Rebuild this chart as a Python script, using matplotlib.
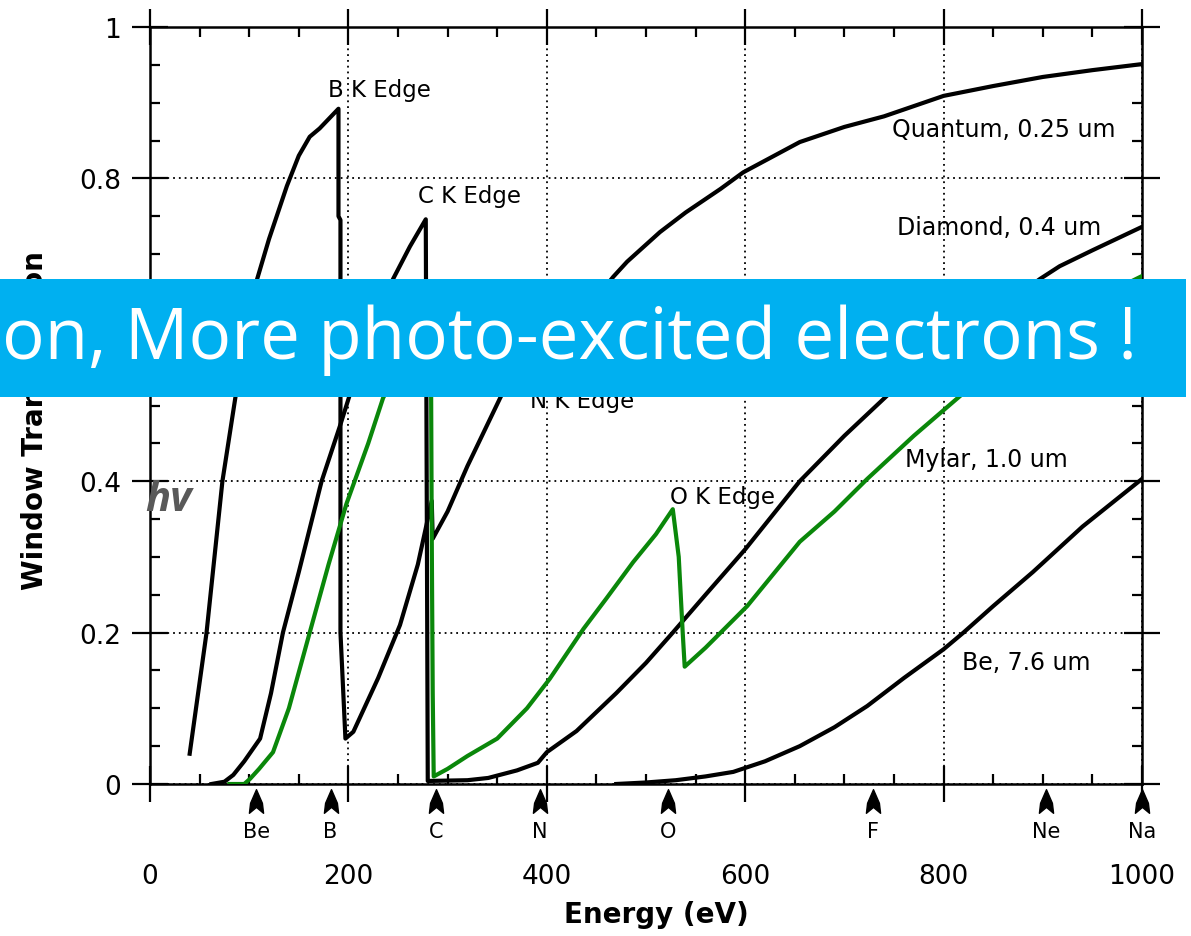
import matplotlib.pyplot as plt
from matplotlib.patches import Rectangle
from matplotlib.path import Path
from matplotlib.ticker import MultipleLocator, FixedLocator, FixedFormatter

# window transmission curves (energy in eV, transmission)
quantum_e = [40, 57, 73, 86, 97, 108, 120, 138, 150, 161, 171, 190, 190, 192, 192, 197,
             205, 230, 252, 270, 284, 285, 300, 320, 353, 380, 400, 401, 430, 467,
             481, 514, 540, 575, 598, 655, 700, 740, 800, 850, 900, 950, 1000]
quantum_t = [0.04, 0.2, 0.4, 0.51, 0.6, 0.667, 0.72, 0.79, 0.83, 0.855, 0.866, 0.892, 0.75, 0.745, 0.2, 0.06,
             0.069, 0.14, 0.21, 0.29, 0.374, 0.324, 0.36, 0.42, 0.51, 0.58, 0.63, 0.57, 0.61, 0.67,
             0.69, 0.729, 0.755, 0.786, 0.808, 0.848, 0.868, 0.882, 0.909, 0.922, 0.934, 0.943, 0.951]

diamond_e = [62, 75, 84, 95, 111, 122, 134, 150, 173, 192, 210, 230, 245, 262, 278, 280,
             320, 341, 370, 391, 400, 430, 470, 500, 527, 560, 600, 655, 700, 743,
             800, 850, 897, 917, 950, 1000]
diamond_t = [0.0, 0.003, 0.012, 0.03, 0.06, 0.12, 0.2, 0.28, 0.4, 0.475, 0.55, 0.62, 0.667, 0.71, 0.746, 0.004,
             0.005, 0.008, 0.018, 0.028, 0.042, 0.07, 0.12, 0.16, 0.2, 0.25, 0.31, 0.4, 0.46, 0.513,
             0.573, 0.622, 0.667, 0.684, 0.705, 0.736]

mylar_e = [80, 95, 101, 110, 124, 140, 161, 180, 198, 220, 235, 260, 283, 284, 285, 286,
           300, 320, 350, 380, 403, 437, 460, 487, 510, 527, 533, 537, 539,
           560, 602, 655, 690, 723, 770, 817, 870, 920, 960, 1000]
mylar_t = [0.0, 0.0, 0.007, 0.02, 0.042, 0.1, 0.2, 0.29, 0.37, 0.45, 0.51, 0.57, 0.64, 0.33, 0.12, 0.01,
           0.02, 0.037, 0.06, 0.1, 0.139, 0.205, 0.245, 0.293, 0.33, 0.363, 0.3, 0.2, 0.155,
           0.18, 0.235, 0.32, 0.36, 0.403, 0.46, 0.513, 0.57, 0.615, 0.645, 0.671]

be_e = [470, 500, 530, 560, 588, 620, 655, 690, 723, 760, 800, 820, 850, 890, 940, 1000]
be_t = [0.0, 0.002, 0.005, 0.01, 0.016, 0.03, 0.05, 0.075, 0.103, 0.14, 0.178, 0.2, 0.235, 0.28, 0.34, 0.403]

# element K edge markers under the axis
elements = ["Be", "B", "C", "N", "O", "F", "Ne", "Na"]
element_e = [107, 182, 288, 393, 522, 729, 903, 1000]

# text labels on the plot
edge_labels = ["B K Edge", "C K Edge", "N K Edge", "O K Edge"]
edge_label_e = [179, 270, 383, 524]
edge_label_t = [0.918, 0.778, 0.506, 0.380]
window_labels = ["Quantum, 0.25 um", "Diamond, 0.4 um", "Mylar, 1.0 um", "Be, 7.6 um"]
window_label_e = [748, 753, 761, 819]
window_label_t = [0.865, 0.736, 0.429, 0.161]

xticks = [0, 200, 400, 600, 800, 1000]
xticklabels = ["0", "200", "400", "600", "800", "1000"]
yticks = [0, 0.2, 0.4, 0.6, 0.8, 1.0]
yticklabels = ["0", "0.2", "0.4", "0.6", "0.8", "1"]

fig = plt.figure(figsize=(11.91, 9.37), dpi=100)
ax = fig.add_axes([150 / 1191, 1 - 785 / 937, 992 / 1191, 757 / 937])

green = "#0a870a"
lw = 3.0
ax.plot(quantum_e, quantum_t, color="black", lw=lw, zorder=3)
ax.plot(diamond_e, diamond_t, color="black", lw=lw, zorder=3)
ax.plot(be_e, be_t, color="black", lw=lw, zorder=3)
ax.plot(mylar_e, mylar_t, color=green, lw=lw, zorder=4)

ax.set_xlim(0, 1000)
ax.set_ylim(0, 1)

ax.xaxis.set_major_locator(FixedLocator(xticks))
ax.xaxis.set_major_formatter(FixedFormatter(xticklabels))
ax.yaxis.set_major_locator(FixedLocator(yticks))
ax.yaxis.set_major_formatter(FixedFormatter(yticklabels))
ax.xaxis.set_minor_locator(MultipleLocator(50))
ax.yaxis.set_minor_locator(MultipleLocator(0.05))

ax.tick_params(which="major", direction="inout", length=26, width=1.6,
               top=True, right=True, labelsize=19, colors="black")
ax.tick_params(which="minor", direction="in", length=7, width=1.6, top=True, right=True)
ax.tick_params(axis="x", which="major", pad=44)
ax.tick_params(axis="y", which="major", pad=8)
for s in ax.spines.values():
    s.set_linewidth(1.8)

ax.grid(True, which="major", color="black", linestyle=(0, (1, 2.2)), linewidth=1.3)

for lbl, e, t in zip(edge_labels, edge_label_e, edge_label_t):
    ax.text(e, t, lbl, fontsize=16.5, ha="left", va="center", zorder=5)
for lbl, e, t in zip(window_labels, window_label_e, window_label_t):
    ax.text(e, t, lbl, fontsize=17, ha="left", va="center", zorder=5)

# notched arrow marker for the element edges
arrow = Path([(0, 1), (0.5, -0.15), (0.6, -1), (0, -0.5), (-0.6, -1), (-0.5, -0.15), (0, 1)],
             [Path.MOVETO] + [Path.LINETO] * 5 + [Path.CLOSEPOLY])
ax.plot(element_e, [-0.022] * len(element_e), linestyle="none", marker=arrow,
        markersize=17, color="black", clip_on=False, zorder=5)
for name, e in zip(elements, element_e):
    ax.text(e, -0.062, name, fontsize=15, ha="center", va="center", clip_on=False)

ax.set_xlabel("Energy (eV)", fontsize=20, fontweight="bold", va="center")
ax.xaxis.set_label_coords(0.51, -0.172)
ax.set_ylabel("Window Transmission", fontsize=20, fontweight="bold", va="center")
ax.yaxis.set_label_coords(-0.116, 0.482)

# hv marker text
ax.text(-0.005, 0.376, "hv", fontsize=30, fontweight="bold", style="italic",
        color="#595959", family="Open Sans", ha="left", va="center",
        transform=ax.get_yaxis_transform(), zorder=6)

# overlay banner across the chart
fig.patches.append(Rectangle((0, 1 - 398 / 937), 1186 / 1191, 118 / 937,
                             transform=fig.transFigure, facecolor="#00b0f0",
                             edgecolor="none", zorder=10))
fig.text(1137 / 1191, 1 - 340 / 937, "on, More photo-excited electrons !",
         fontsize=51, color="white", family="Open Sans", ha="right", va="center", zorder=11)

fig.savefig("out.png", dpi=100)
